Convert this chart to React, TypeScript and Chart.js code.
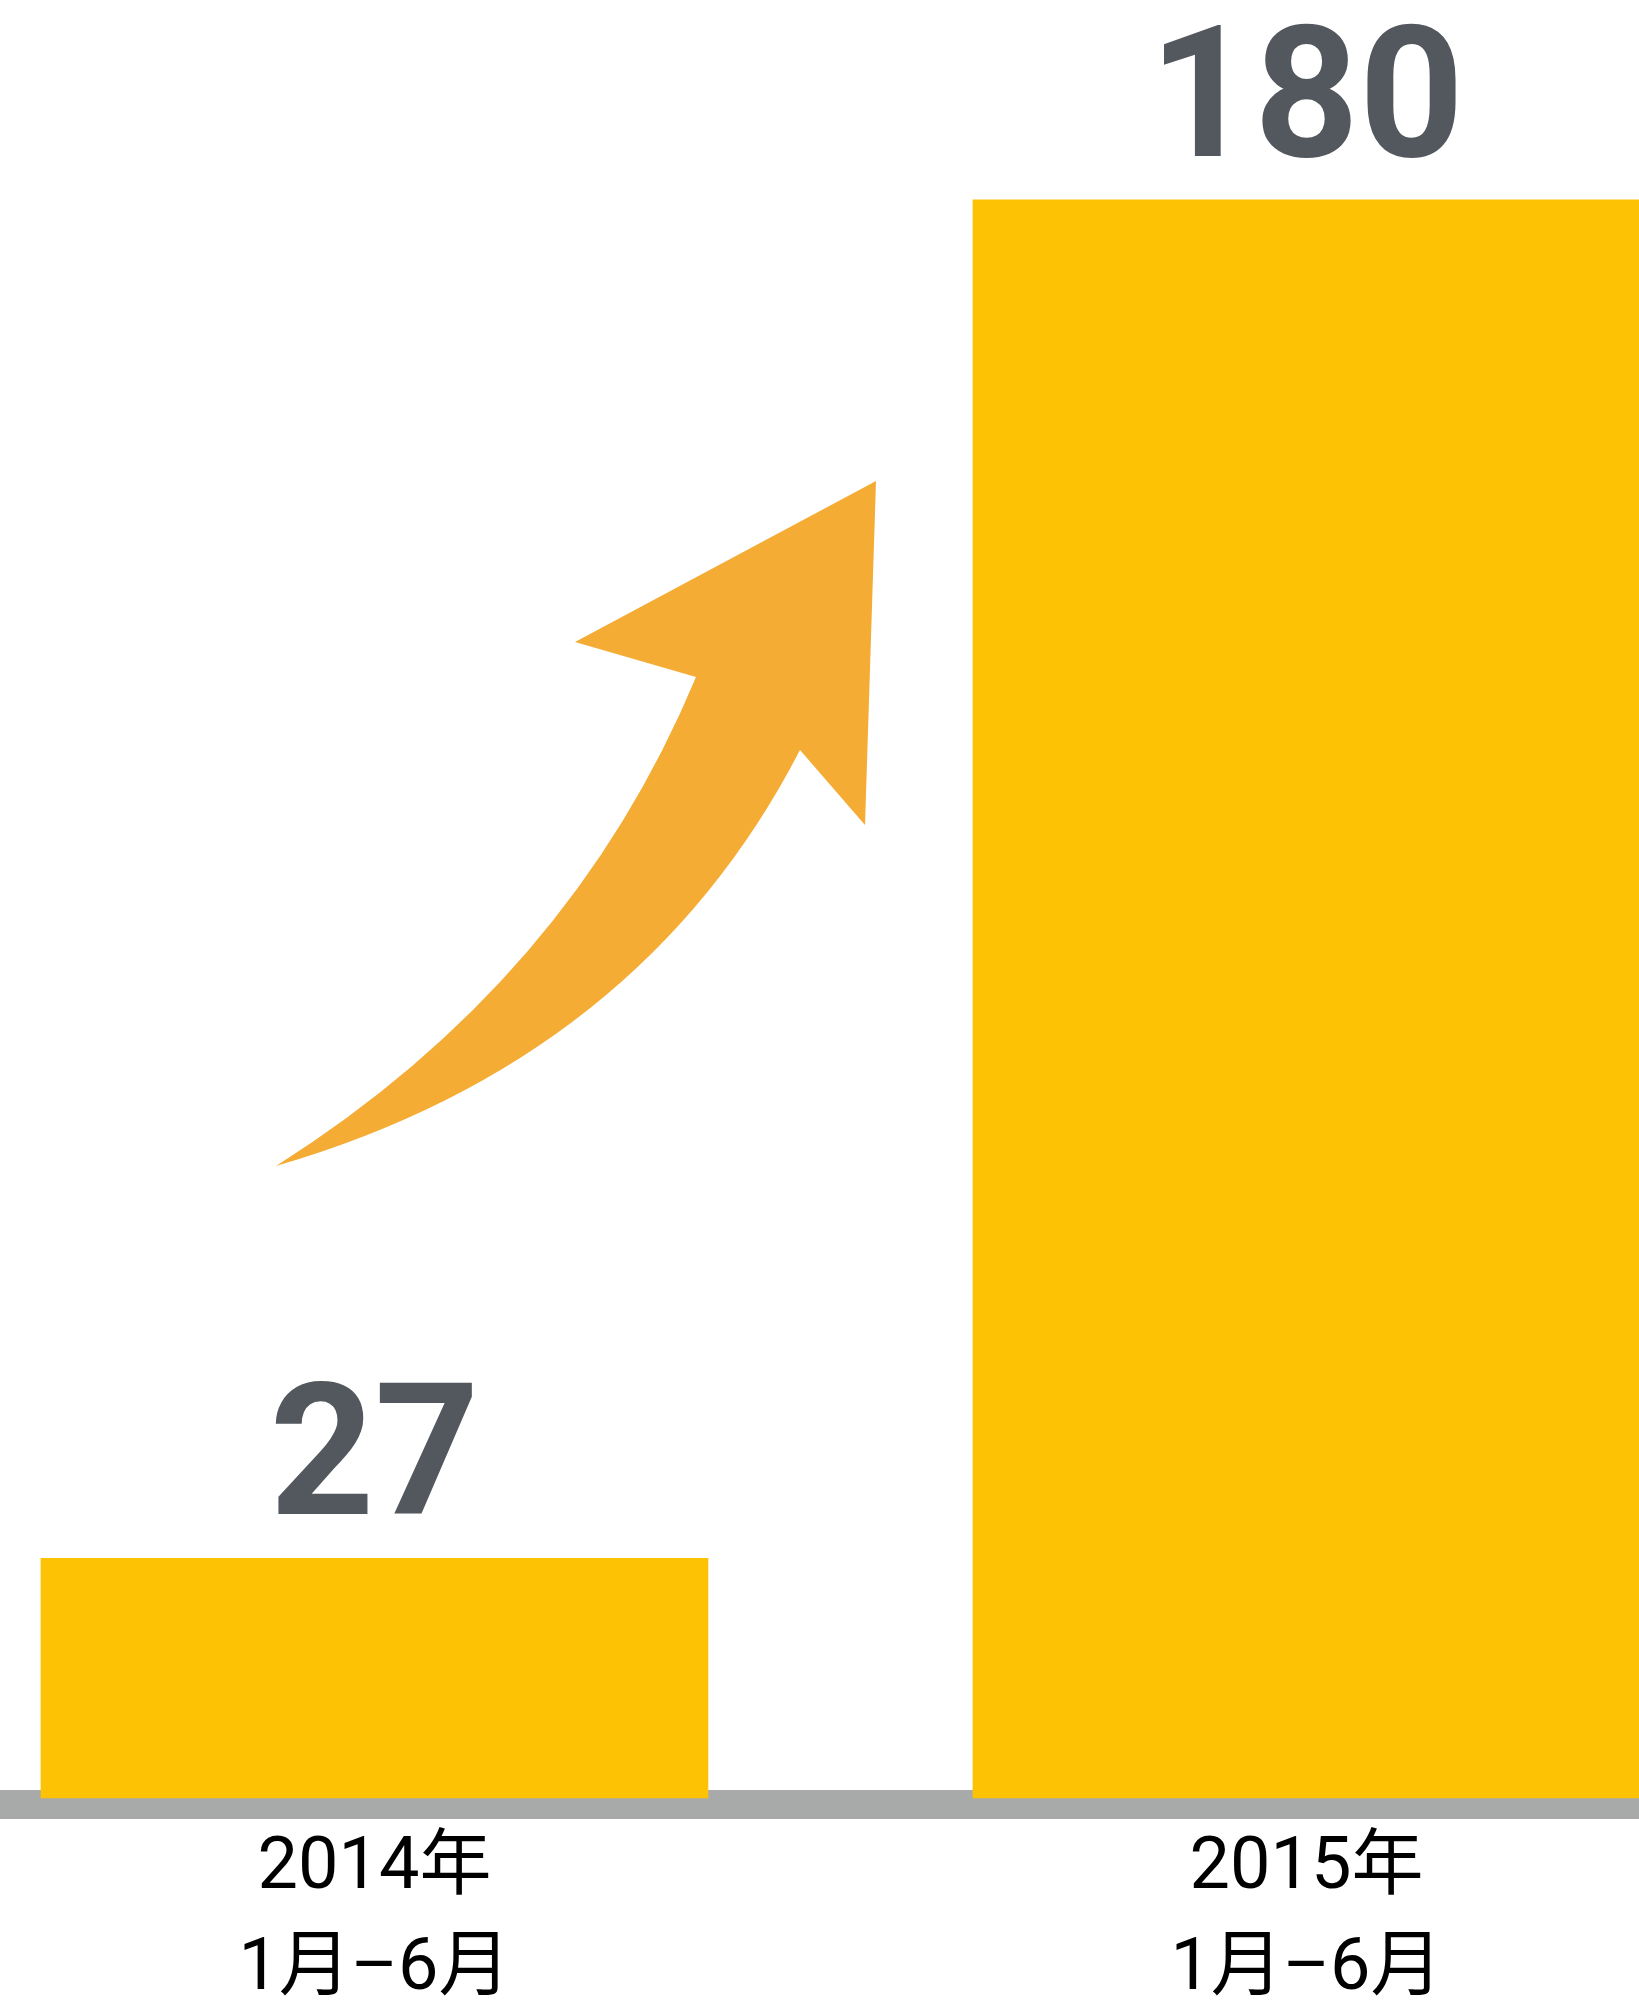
import React, { useEffect, useRef } from 'react';
import { Chart, registerables } from 'chart.js';

Chart.register(...registerables);

// ---- data ----
const periods = ['2014年', '2015年'];
const months = ['1月–6月', '1月–6月'];
const values = [27, 180];
const positions = [0, 1];

// ---- styles ----
const BAR_COLOR = '#FCC203';
const VALUE_COLOR = '#53575E';
const BASE_COLOR = '#A7AAA9';
const ARROW_COLOR = '#F4AC35';

// arrow decoration, in fractions of the chart area (width, height)
const ARROW = {
  tail: [276 / 1639, 1166 / 1798],
  upperCtrl: [570 / 1639, 980 / 1798],
  innerLeft: [696 / 1639, 677 / 1798],
  leftBarb: [575 / 1639, 642 / 1798],
  tip: [876 / 1639, 481 / 1798],
  rightBarb: [865 / 1639, 825 / 1798],
  innerRight: [800 / 1639, 750 / 1798],
  lowerCtrl: [640 / 1639, 1060 / 1798],
};

const baselinePlugin = {
  id: 'baseline',
  beforeDatasetsDraw(chart: any) {
    const { ctx, chartArea, width } = chart;
    ctx.save();
    ctx.fillStyle = BASE_COLOR;
    ctx.fillRect(0, chartArea.bottom - 8, width, 29);
    ctx.restore();
  },
};

const arrowPlugin = {
  id: 'arrow',
  beforeDatasetsDraw(chart: any) {
    const { ctx, chartArea } = chart;
    const w = chartArea.right - chartArea.left;
    const h = chartArea.bottom - chartArea.top;
    const p = (k: keyof typeof ARROW) => [chartArea.left + ARROW[k][0] * w, chartArea.top + ARROW[k][1] * h];
    ctx.save();
    ctx.fillStyle = ARROW_COLOR;
    ctx.beginPath();
    const t = p('tail');
    ctx.moveTo(t[0], t[1]);
    const uc = p('upperCtrl');
    const il = p('innerLeft');
    ctx.quadraticCurveTo(uc[0], uc[1], il[0], il[1]);
    const lb = p('leftBarb');
    ctx.lineTo(lb[0], lb[1]);
    const tp = p('tip');
    ctx.lineTo(tp[0], tp[1]);
    const rb = p('rightBarb');
    ctx.lineTo(rb[0], rb[1]);
    const ir = p('innerRight');
    ctx.lineTo(ir[0], ir[1]);
    const lc = p('lowerCtrl');
    ctx.quadraticCurveTo(lc[0], lc[1], t[0], t[1]);
    ctx.closePath();
    ctx.fill();
    ctx.restore();
  },
};

const valueLabelPlugin = {
  id: 'valueLabels',
  afterDatasetsDraw(chart: any) {
    const { ctx } = chart;
    const meta = chart.getDatasetMeta(0);
    ctx.save();
    ctx.fillStyle = VALUE_COLOR;
    ctx.font = 'bold 183px Roboto, "Liberation Sans", Arial, sans-serif';
    ctx.textAlign = 'center';
    ctx.textBaseline = 'alphabetic';
    meta.data.forEach((bar: any, i: number) => {
      ctx.fillText(String(values[i]), bar.x, bar.y - 44);
    });
    ctx.restore();
  },
};

export default function App() {
  const ref = useRef<HTMLCanvasElement | null>(null);

  useEffect(() => {
    if (!ref.current) return;
    const chart = new Chart(ref.current, {
      type: 'bar',
      data: {
        datasets: [
          {
            data: positions.map((x, i) => ({ x, y: values[i] })),
            backgroundColor: BAR_COLOR,
            borderWidth: 0,
            barThickness: 667,
            clip: false,
          },
        ],
      },
      options: {
        animation: false,
        responsive: true,
        maintainAspectRatio: false,
        layout: { padding: 0 },
        plugins: {
          legend: { display: false },
          tooltip: { enabled: false },
        },
        scales: {
          x: {
            type: 'linear',
            offset: false,
            min: -0.4018,
            max: 1.3568,
            grid: { display: false, drawTicks: false, offset: false },
            border: { display: false },
            afterBuildTicks: (scale: any) => {
              scale.ticks = positions.map((v) => ({ value: v }));
            },
            afterFit: (scale: any) => {
              scale.height = 203;
              scale.paddingLeft = 0;
              scale.paddingRight = 0;
            },
            ticks: {
              autoSkip: false,
              maxRotation: 0,
              minRotation: 0,
              padding: 22,
              color: '#000000',
              font: { family: 'Roboto, "Noto Sans CJK JP", sans-serif', size: 72, lineHeight: 1.4 },
              callback: (value: any) => {
                const i = positions.indexOf(Number(value));
                return i >= 0 ? [periods[i], months[i]] : '';
              },
            },
          },
          y: {
            display: false,
            min: 0,
            max: 202.5,
          },
        },
      },
      plugins: [baselinePlugin, arrowPlugin, valueLabelPlugin],
    });
    return () => chart.destroy();
  }, []);

  return (
    <div style={{ position: 'fixed', left: 0, top: 0, width: 1639, height: 2001, background: '#ffffff' }}>
      <canvas ref={ref} />
    </div>
  );
}
